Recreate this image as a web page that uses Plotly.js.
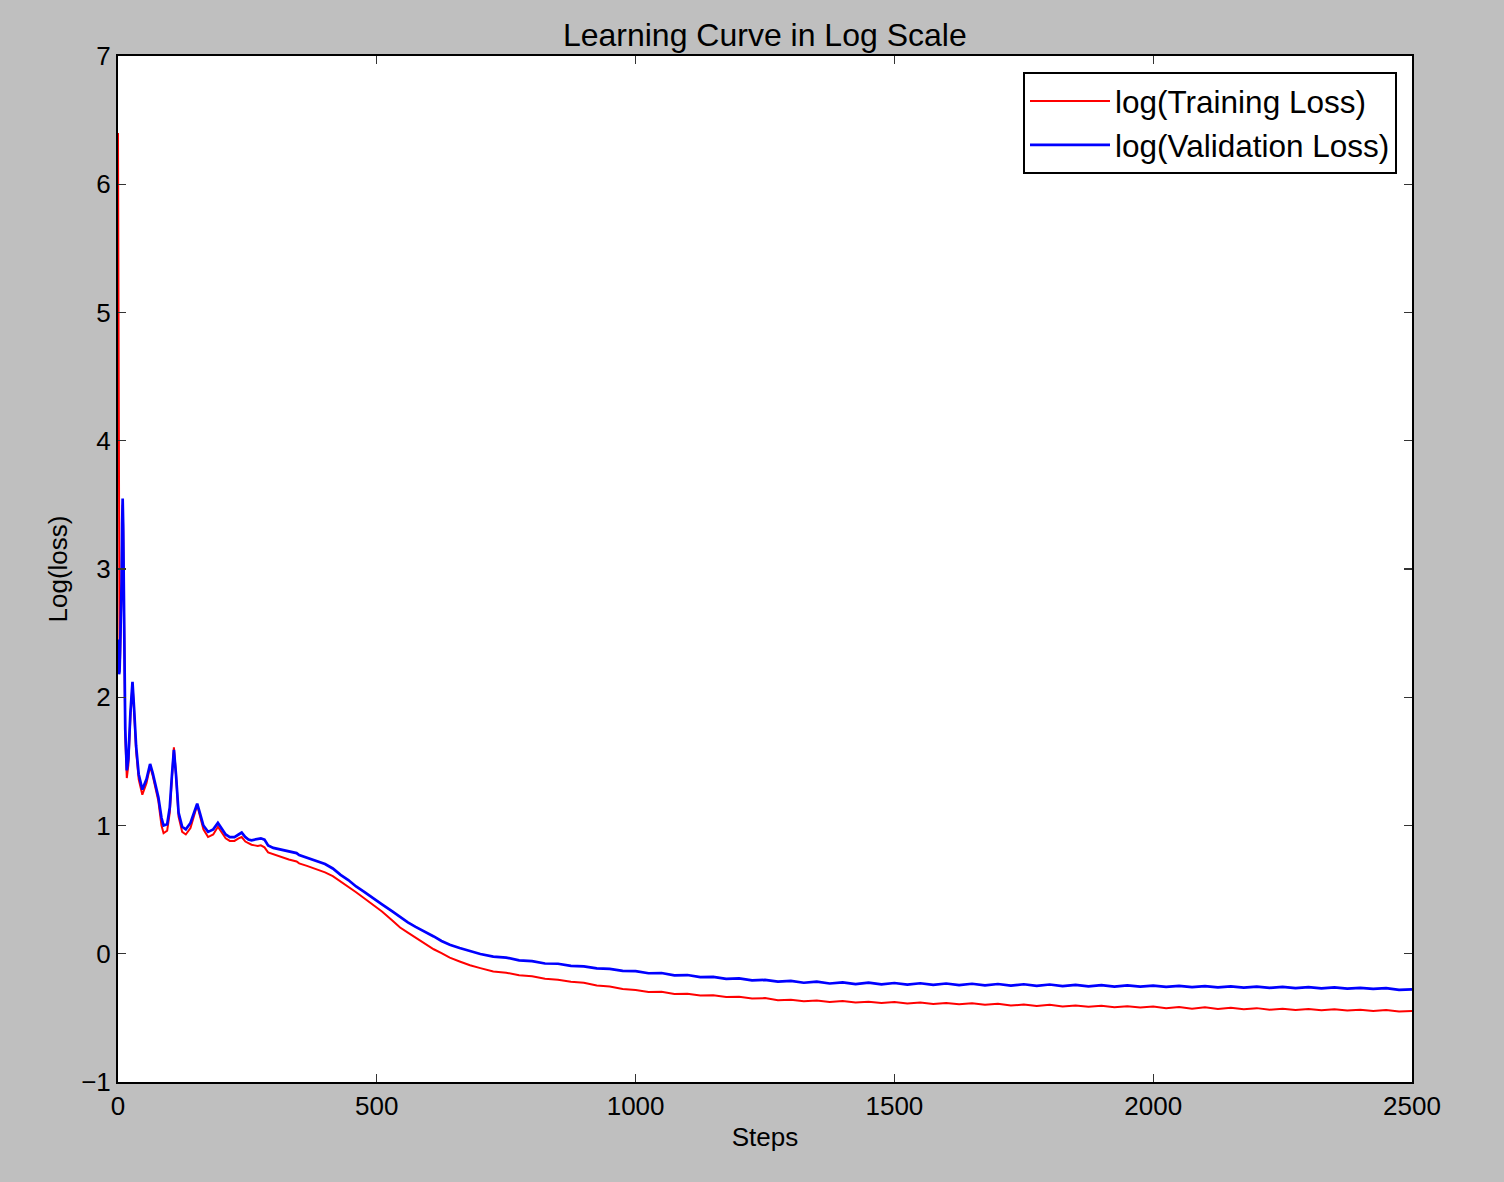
<!DOCTYPE html>
<html>
<head>
<meta charset="utf-8">
<script src="https://cdn.plot.ly/plotly-3.0.1.min.js"></script>
<style>html,body{margin:0;padding:0;background:#bfbfbf;}#chart{width:1504px;height:1182px;}</style>
</head>
<body>
<div id="chart"></div>
<script>
var steps = [0,1,2,3,4,5,6,7,8,9,10,11,12,14,17,20,24,28,31,35,40,47,55,62,67,73,78,84,88,95,100,104,108,112,117,124,131,140,147,153,158,165,174,184,193,200,208,216,225,233,239,246,252,258,264,270,276,283,290,300,315,330,345,350,365,380,400,415,430,445,460,475,493,510,530,545,560,575,590,610,625,641,660,680,
700,725,750,775,800,825,850,875,900,925,950,975,1000,1025,1050,1075,1100,1125,1150,1175,1200,1225,1250,1275,1300,1325,1350,1375,1400,1425,1450,1475,1500,1525,1550,1575,1600,1625,1650,1675,1700,1725,1750,1775,1800,1825,1850,1875,1900,1925,1950,1975,2000,2025,2050,2075,2100,2125,2150,2175,2200,2225,2250,2275,2300,2325,2350,2375,2400,2425,2450,2475,2500];

var trainLoss = [6.40,4.20,2.60,2.25,2.30,2.45,2.60,2.88,3.30,3.50,3.30,2.75,2.25,1.70,1.37,1.47,1.85,2.10,1.90,1.58,1.36,1.24,1.33,1.46,1.39,1.28,1.19,1.00,0.94,0.96,1.10,1.36,1.61,1.40,1.07,0.95,0.93,0.98,1.08,1.16,1.08,0.97,0.91,0.93,0.99,0.95,0.90,0.88,0.88,0.90,0.91,0.875,0.86,0.85,0.845,0.84,0.845,0.83,0.79,0.775,0.755,0.735,0.72,0.705,0.685,0.665,0.635,0.605,0.565,0.52,0.48,0.435,0.38,0.33,0.26,0.205,0.165,0.125,0.085,0.035,0.005,-0.03,-0.06,-0.09,
-0.112,-0.138,-0.148,-0.168,-0.176,-0.195,-0.202,-0.218,-0.226,-0.248,-0.255,-0.274,-0.282,-0.298,-0.296,-0.314,-0.312,-0.326,-0.324,-0.338,-0.336,-0.348,-0.346,-0.362,-0.358,-0.370,-0.364,-0.376,-0.368,-0.380,-0.374,-0.384,-0.376,-0.388,-0.380,-0.392,-0.384,-0.394,-0.386,-0.398,-0.390,-0.404,-0.396,-0.408,-0.398,-0.412,-0.404,-0.414,-0.406,-0.418,-0.410,-0.420,-0.412,-0.424,-0.416,-0.428,-0.418,-0.430,-0.422,-0.432,-0.424,-0.436,-0.428,-0.438,-0.430,-0.440,-0.432,-0.442,-0.436,-0.446,-0.438,-0.450,-0.446];

var valLoss = [2.45,2.30,2.18,2.20,2.35,2.50,2.62,2.90,3.35,3.55,3.35,2.80,2.30,1.75,1.43,1.52,1.88,2.12,1.92,1.62,1.40,1.28,1.36,1.48,1.41,1.30,1.22,1.06,1.00,1.01,1.14,1.38,1.59,1.40,1.10,0.99,0.97,1.02,1.11,1.17,1.10,1.00,0.95,0.97,1.02,0.98,0.93,0.91,0.91,0.93,0.945,0.91,0.89,0.885,0.89,0.895,0.90,0.89,0.845,0.825,0.81,0.795,0.785,0.77,0.75,0.73,0.70,0.665,0.615,0.575,0.525,0.485,0.43,0.385,0.33,0.285,0.245,0.21,0.18,0.135,0.10,0.07,0.045,0.02,
-0.002,-0.022,-0.030,-0.052,-0.058,-0.076,-0.078,-0.094,-0.098,-0.114,-0.118,-0.134,-0.136,-0.152,-0.150,-0.168,-0.166,-0.182,-0.180,-0.196,-0.192,-0.208,-0.204,-0.218,-0.212,-0.226,-0.218,-0.232,-0.224,-0.236,-0.226,-0.238,-0.228,-0.240,-0.230,-0.242,-0.232,-0.244,-0.234,-0.246,-0.236,-0.248,-0.238,-0.250,-0.240,-0.252,-0.242,-0.254,-0.244,-0.256,-0.246,-0.256,-0.248,-0.258,-0.250,-0.260,-0.252,-0.262,-0.254,-0.264,-0.256,-0.266,-0.258,-0.268,-0.260,-0.270,-0.262,-0.272,-0.266,-0.274,-0.268,-0.282,-0.278];

var seriesNames = ['log(Training Loss)', 'log(Validation Loss)'];
var xTicks = [0, 500, 1000, 1500, 2000, 2500];
var yTicks = [-1, 0, 1, 2, 3, 4, 5, 6, 7];

var FONT = 'Liberation Sans, Arial, Helvetica, sans-serif';

var traces = [
  {x: steps, y: trainLoss, name: seriesNames[0], type: 'scatter', mode: 'lines',
   line: {color: '#ff0000', width: 2}},
  {x: steps, y: valLoss, name: seriesNames[1], type: 'scatter', mode: 'lines',
   line: {color: '#0000ff', width: 2.7}}
];

var axisCommon = {
  showgrid: false, zeroline: false,
  showline: true, linecolor: '#000', linewidth: 2, mirror: 'ticks',
  ticks: 'inside', ticklen: 8, tickwidth: 1.2, tickcolor: '#333',
  tickfont: {family: FONT, size: 26, color: '#000'}
};

var layout = {
  width: 1504, height: 1182,
  paper_bgcolor: '#bfbfbf', plot_bgcolor: '#ffffff',
  margin: {l: 118, r: 92, t: 56, b: 100, pad: 0},
  showlegend: true,
  title: {text: 'Learning Curve in Log Scale', font: {family: FONT, size: 32, color: '#000'},
          x: 0.5085, xanchor: 'center', y: 1 - 35/1182, yanchor: 'middle', yref: 'container'},
  xaxis: Object.assign({}, axisCommon, {
    range: [0, 2500], tickvals: xTicks, ticktext: xTicks.map(String),
    title: {text: 'Steps', font: {family: FONT, size: 26, color: '#000'}, standoff: 8}
  }),
  yaxis: Object.assign({}, axisCommon, {
    range: [-1, 7], tickvals: yTicks, ticktext: yTicks.map(function(v){return v < 0 ? '\u2212' + Math.abs(v) : String(v);}),
    title: {text: 'Log(loss)', font: {family: FONT, size: 26, color: '#000'}, standoff: 6}
  }),
  legend: {
    x: (1397 - 118) / 1294, xanchor: 'right', y: (1082 - 72) / 1026, yanchor: 'top',
    bgcolor: '#ffffff', bordercolor: '#000', borderwidth: 2,
    font: {family: FONT, size: 31.5, color: '#000'}, itemwidth: 80
  }
};

Plotly.newPlot('chart', traces, layout, {displayModeBar: false, staticPlot: true});
</script>
</body>
</html>
